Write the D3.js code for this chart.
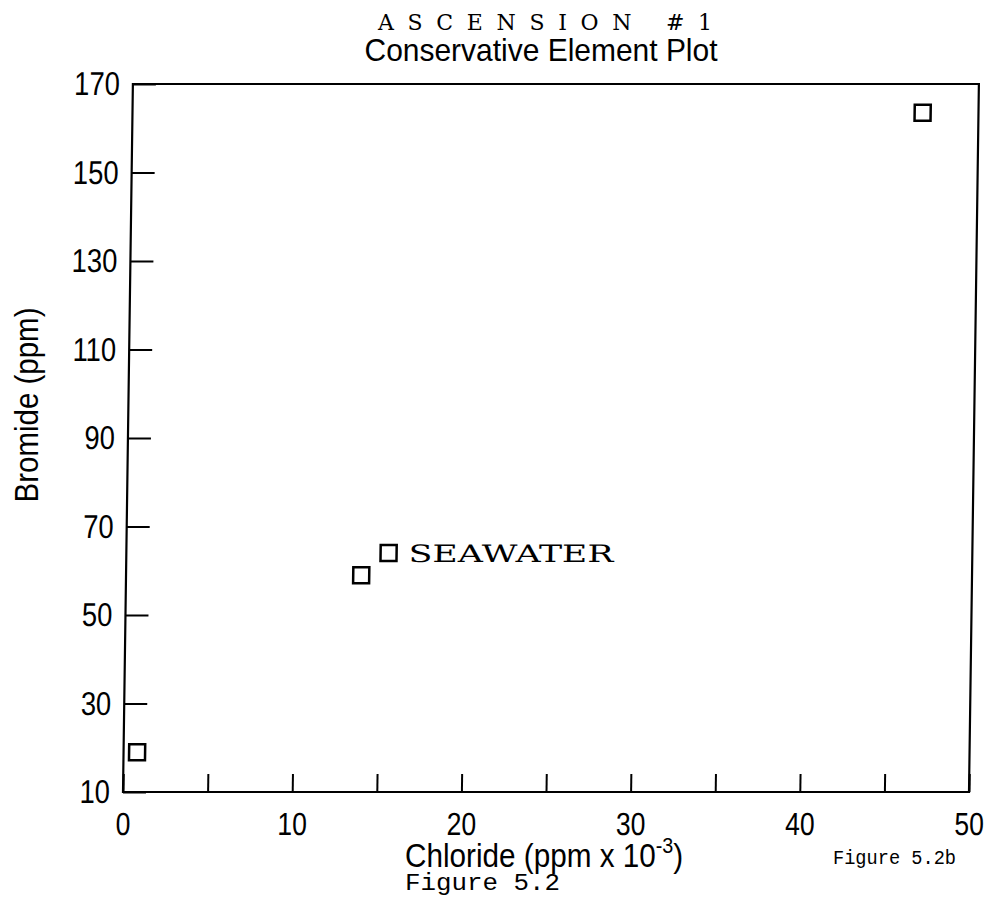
<!DOCTYPE html>
<html>
<head>
<meta charset="utf-8">
<script src="https://cdn.jsdelivr.net/npm/d3@7"></script>
<style>
  body { margin: 0; background: #fff; }
</style>
</head>
<body>
<svg id="chart" width="986" height="918"></svg>
<script>
// data
const chloride = [0.8, 13.9, 15.5, 46.7];      // ppm x 10^-3
const bromide  = [19, 59, 64, 163.5];          // ppm
const pointNames = ["", "", "SEAWATER", ""];
const xTicks = [0, 5, 10, 15, 20, 25, 30, 35, 40, 45, 50];
const xTickLabels = [0, 10, 20, 30, 40, 50];
const yTicks = [10, 30, 50, 70, 90, 110, 130, 150, 170];

const svg = d3.select("#chart");
svg.append("rect").attr("width", 986).attr("height", 918).attr("fill", "#fff");

const plotLeft = 123, plotRight = 969, plotTop = 84, plotBottom = 792;
const sans = "'Liberation Sans', Arial, Helvetica, sans-serif";
const serif = "'DejaVu Serif', 'Liberation Serif', serif";
const mono = "'Liberation Mono', 'Courier New', monospace";
const narrow = 0.83; // the original lettering is a condensed Helvetica

const x = d3.scaleLinear().domain([0, 50]).range([plotLeft, plotRight]);
const y = d3.scaleLinear().domain([10, 170]).range([plotBottom, plotTop]);

// the scan leans a little to the right, so skew the plot about its bottom edge
const plot = svg.append("g")
  .attr("transform", `translate(0,${plotBottom}) skewX(-0.8) translate(0,${-plotBottom})`);

// y axis
const yAxis = plot.append("g")
  .attr("transform", `translate(${plotLeft},0)`)
  .call(d3.axisLeft(y).tickValues(yTicks).tickSizeInner(-23).tickSizeOuter(0).tickPadding(13));
yAxis.select(".domain").remove();
yAxis.selectAll("line").attr("stroke", "#000").attr("stroke-width", 2);
yAxis.selectAll("text")
  .attr("font-family", sans).attr("font-size", 33).attr("fill", "#000")
  .attr("x", -13 / narrow)
  .attr("transform", `scale(${narrow},1)`);

// x axis
const xAxis = plot.append("g")
  .attr("transform", `translate(0,${plotBottom})`)
  .call(d3.axisBottom(x).tickValues(xTicks).tickSizeInner(-18).tickSizeOuter(0).tickPadding(20)
    .tickFormat(d => xTickLabels.includes(d) ? d : ""));
xAxis.select(".domain").remove();
xAxis.selectAll("line").attr("stroke", "#000").attr("stroke-width", 2);
xAxis.selectAll("text")
  .attr("font-family", sans).attr("font-size", 32).attr("fill", "#000")
  .attr("transform", `scale(${narrow},1)`);

// frame
plot.append("rect")
  .attr("x", plotLeft).attr("y", plotTop)
  .attr("width", plotRight - plotLeft).attr("height", plotBottom - plotTop)
  .attr("fill", "none").attr("stroke", "#000").attr("stroke-width", 2.2);

// open square markers
const pts = d3.range(chloride.length);
plot.selectAll("rect.pt")
  .data(pts)
  .join("rect")
  .attr("class", "pt")
  .attr("x", i => x(chloride[i]) - 8)
  .attr("y", i => y(bromide[i]) - 8)
  .attr("width", 16).attr("height", 16)
  .attr("fill", "none").attr("stroke", "#000").attr("stroke-width", 2.5);

plot.selectAll("text.pt-label")
  .data(pts.filter(i => pointNames[i]))
  .join("text")
  .attr("class", "pt-label")
  .attr("x", i => x(chloride[i]) + 20)
  .attr("y", i => y(bromide[i]) + 9)
  .attr("font-family", serif).attr("font-size", 24)
  .attr("textLength", 205).attr("lengthAdjust", "spacingAndGlyphs")
  .text(i => pointNames[i]);

// titles
svg.append("text")
  .attr("x", 545).attr("y", 30).attr("text-anchor", "middle")
  .attr("font-family", serif).attr("font-size", 22)
  .attr("textLength", 334).attr("lengthAdjust", "spacing")
  .text("ASCENSION #1");

svg.append("text")
  .attr("x", 541).attr("y", 61).attr("text-anchor", "middle")
  .attr("font-family", sans).attr("font-size", 32)
  .attr("textLength", 353).attr("lengthAdjust", "spacingAndGlyphs")
  .text("Conservative Element Plot");

// axis titles
svg.append("text")
  .attr("transform", "translate(38,405) rotate(-90)")
  .attr("text-anchor", "middle")
  .attr("font-family", sans).attr("font-size", 33)
  .attr("textLength", 195).attr("lengthAdjust", "spacingAndGlyphs")
  .text("Bromide (ppm)");

const xt = svg.append("text")
  .attr("transform", "translate(405,867) scale(0.9,1)")
  .attr("font-family", sans).attr("font-size", 33);
xt.append("tspan").text("Chloride (ppm x 10");
xt.append("tspan").attr("font-size", 22).attr("dy", -14).text("-3");
xt.append("tspan").attr("dy", 14).text(")");

// figure captions
svg.append("text")
  .attr("x", 405).attr("y", 890)
  .attr("font-family", mono).attr("font-size", 24)
  .attr("textLength", 155).attr("lengthAdjust", "spacingAndGlyphs")
  .text("Figure 5.2");

svg.append("text")
  .attr("x", 833).attr("y", 864)
  .attr("font-family", mono).attr("font-size", 21)
  .attr("textLength", 123).attr("lengthAdjust", "spacingAndGlyphs")
  .text("Figure 5.2b");
</script>
</body>
</html>
